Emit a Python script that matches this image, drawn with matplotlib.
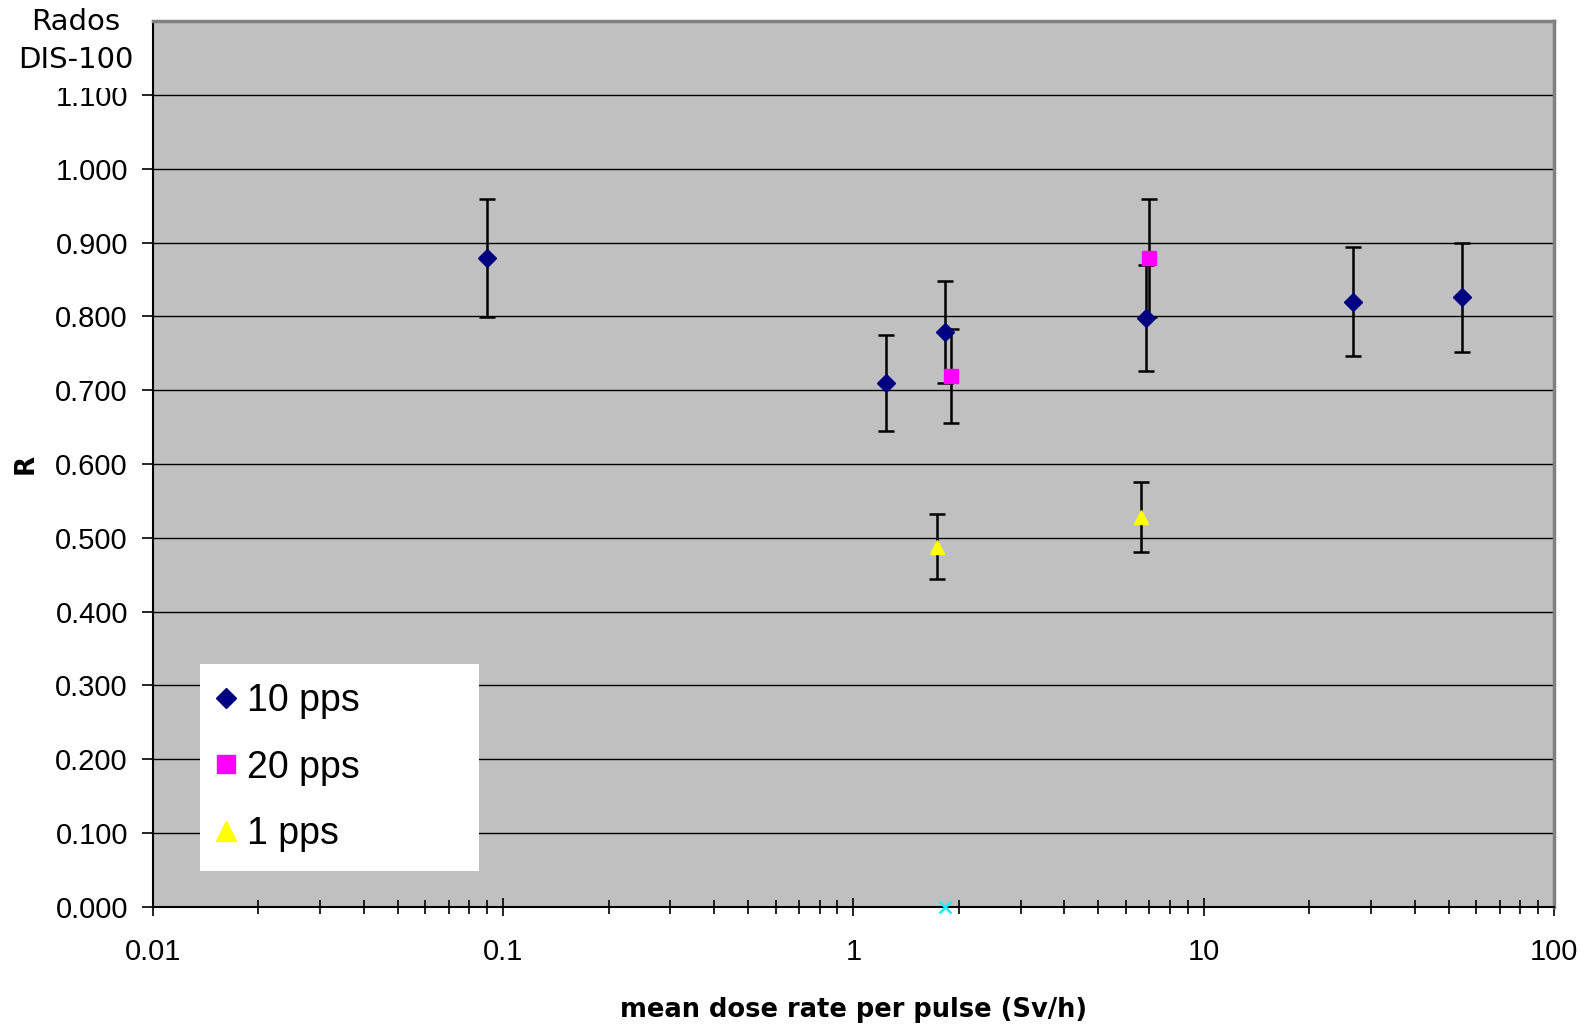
import matplotlib
matplotlib.use("Agg")
import matplotlib.pyplot as plt
from matplotlib.lines import Line2D
from matplotlib.patches import Rectangle
from matplotlib.ticker import FixedLocator, LogLocator, NullFormatter

# Response R of the Rados DIS-100 versus mean dose rate per pulse
rate_10pps = [0.09, 1.24, 1.83, 6.83, 26.6, 54.6]
r_10pps = [0.879, 0.710, 0.779, 0.798, 0.820, 0.826]
err_10pps = [0.080, 0.065, 0.069, 0.072, 0.074, 0.074]

rate_20pps = [1.90, 6.97]
r_20pps = [0.719, 0.879]
err_20pps = [0.064, 0.080]

rate_1pps = [1.73, 6.61]
r_1pps = [0.488, 0.528]
err_1pps = [0.044, 0.047]

rate_zero = [1.83]
r_zero = [0.0]

x_ticks = [0.01, 0.1, 1, 10, 100]
x_tick_labels = ["0.01", "0.1", "1", "10", "100"]
y_ticks = [0.0, 0.1, 0.2, 0.3, 0.4, 0.5, 0.6, 0.7, 0.8, 0.9, 1.0, 1.1]

plt.rcParams["font.family"] = ["Liberation Sans", "DejaVu Sans"]

fig = plt.figure(figsize=(15.88, 10.26), dpi=100)
ax = fig.add_axes([0.0963, 0.1160, 0.8823, 0.8635])
ax.set_facecolor("#C0C0C0")

ax.set_xscale("log")
ax.set_xlim(0.01, 100)
ax.set_ylim(0, 1.2)

ax.yaxis.grid(True, color="black", lw=1.0, zorder=1)
ax.set_axisbelow(True)

eb_kw = dict(ls="none", ecolor="black", elinewidth=1.8, capsize=6, capthick=1.8, zorder=3)
ax.errorbar(rate_10pps, r_10pps, yerr=err_10pps, marker="D", ms=9,
            color="#000080", mec="#000080", **eb_kw)
ax.errorbar(rate_20pps, r_20pps, yerr=err_20pps, marker="s", ms=10.5,
            color="#FF00FF", mec="#FF00FF", **eb_kw)
ax.errorbar(rate_1pps, r_1pps, yerr=err_1pps, marker="^", ms=10.5,
            color="#FFFF00", mec="#FFFF00", **eb_kw)
ax.plot(rate_zero, r_zero, ls="none", marker="x", ms=9, mew=1.8,
        color="#00FFFF", clip_on=False, zorder=5)

ax.xaxis.set_major_locator(FixedLocator(x_ticks))
ax.set_xticklabels(x_tick_labels)
ax.xaxis.set_minor_locator(LogLocator(base=10, subs=range(2, 10)))
ax.xaxis.set_minor_formatter(NullFormatter())
ax.set_yticks(y_ticks)
ax.set_yticklabels([f"{v:.3f}" for v in y_ticks])

ax.tick_params(axis="y", which="major", direction="out", length=8, width=1.2,
               pad=10, labelsize=21)
ax.tick_params(axis="x", which="major", direction="inout", length=13, width=1.2,
               pad=16, labelsize=21)
ax.tick_params(axis="x", which="minor", direction="inout", length=10, width=1.2)

for side in ("left", "bottom"):
    ax.spines[side].set_color("black")
    ax.spines[side].set_linewidth(1.5)
for side in ("top", "right"):
    ax.spines[side].set_color("#808080")
    ax.spines[side].set_linewidth(2.5)

ax.set_xlabel("mean dose rate per pulse (Sv/h)", family="DejaVu Sans",
              fontweight="bold", fontsize=18.5, labelpad=22)
ax.set_ylabel("R", family="DejaVu Sans", fontweight="bold", fontsize=19, labelpad=12)

handles = [
    Line2D([], [], ls="none", marker="D", ms=10.5, color="#000080"),
    Line2D([], [], ls="none", marker="s", ms=13, color="#FF00FF"),
    Line2D([], [], ls="none", marker="^", ms=14, color="#FFFF00"),
]
leg = ax.legend(handles, ["10 pps", "20 pps", "1 pps"], loc="lower left",
                bbox_to_anchor=(0.0335, 0.0405, 0.199, 0.23), mode="expand",
                borderaxespad=0, frameon=True, fancybox=False, facecolor="white",
                edgecolor="none", framealpha=1, fontsize=27, handlelength=0.4,
                handletextpad=0.35, labelspacing=0.82, borderpad=0.5)
leg.set_zorder(6)

# White title block in the upper-left corner
fig.add_artist(Rectangle((0, 1 - 88 / 1026), 151 / 1588, 88 / 1026,
                         transform=fig.transFigure, facecolor="white",
                         edgecolor="none", zorder=10))
fig.text(76 / 1588, 1 - 41 / 1026, "Rados\nDIS-100", ha="center", va="center",
         family="DejaVu Sans", fontsize=21, linespacing=1.45, zorder=11)

fig.savefig("out.png", dpi=100)
